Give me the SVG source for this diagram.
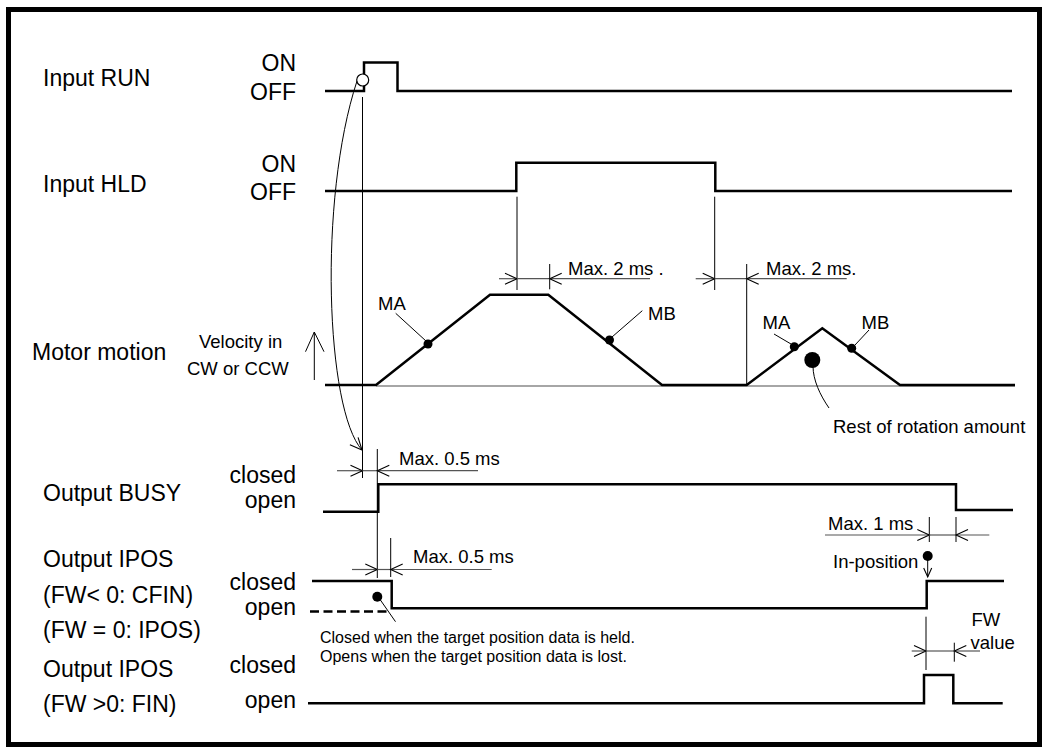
<svg xmlns="http://www.w3.org/2000/svg" width="1046" height="751" viewBox="0 0 1046 751">
<style>
text{font-family:"Liberation Sans",Arial,sans-serif;fill:#000}
.big{font-size:23px}
.med{font-size:18.5px}
.sm{font-size:16px}
.end{text-anchor:end}
.sig{fill:none;stroke:#000;stroke-width:2.5;stroke-linejoin:miter}
.thin{fill:none;stroke:#000;stroke-width:1}
.dim{fill:none;stroke:#555;stroke-width:1.2}
.arr{marker-end:url(#tip)}
</style>
<defs>
<marker id="tip" markerUnits="userSpaceOnUse" markerWidth="16" markerHeight="16" viewBox="-14 -8 16 16" refX="0" refY="0" orient="auto">
<path d="M-12,-5.5 L0,0 L-12,5.5" fill="none" stroke="#000" stroke-width="1.1"/>
</marker>
<marker id="tipS" markerUnits="userSpaceOnUse" markerWidth="14" markerHeight="14" viewBox="-12 -7 14 14" refX="0" refY="0" orient="auto">
<path d="M-9,-4 L0,0 L-9,4" fill="none" stroke="#000" stroke-width="1.1"/>
</marker>
</defs>
<rect x="8.5" y="9.5" width="1031" height="735" fill="#fff" stroke="#000" stroke-width="5"/>

<g id="run">
<text class="big" x="43" y="86">Input RUN</text>
<text class="big end" x="296" y="71">ON</text>
<text class="big end" x="296" y="100">OFF</text>
<path class="sig" d="M325,91 H364 V62.5 H397.5 V91 H1012"/>
<circle cx="362.7" cy="80" r="6" fill="#fff" stroke="#000" stroke-width="1.2"/>
</g>

<g id="hld">
<text class="big" x="43" y="191.5">Input HLD</text>
<text class="big end" x="296" y="171.5">ON</text>
<text class="big end" x="296" y="200">OFF</text>
<path class="sig" d="M325,191 H516.3 V162.7 H715.3 V191 H1012"/>
</g>

<g id="motion">
<text class="big" x="32" y="360">Motor motion</text>
<text class="med" x="199" y="348">Velocity in</text>
<text class="med" x="187" y="375">CW or CCW</text>
<line class="thin" x1="314.3" y1="380" x2="314.3" y2="332"/>
<path class="thin" d="M305.5,351.7 L314.3,332 L324,351.7" stroke-width="1.3"/>
<line x1="376" y1="386" x2="1015" y2="386" stroke="#888" stroke-width="1.3"/>
<path class="sig" d="M325,385 H376 L490,294.7 H548.3 L662,385 H746.7 L822.3,328.3 L900,385 H1015"/>
<circle cx="428" cy="344" r="4.5"/>
<circle cx="609.5" cy="340" r="4.5"/>
<circle cx="794.3" cy="346.7" r="4.5"/>
<circle cx="851.7" cy="348.3" r="4.5"/>
<circle cx="812.3" cy="360" r="8"/>
<text class="med" x="378" y="310">MA</text>
<text class="med" x="648" y="320">MB</text>
<text class="med" x="762.5" y="329">MA</text>
<text class="med" x="861.5" y="329">MB</text>
<text class="med" x="833" y="433">Rest of rotation amount</text>
</g>

<g id="busy">
<text class="big" x="43" y="501">Output BUSY</text>
<text class="big end" x="296" y="483">closed</text>
<text class="big end" x="296" y="508">open</text>
<path class="sig" d="M323,511.7 H378.3 V484.3 H956 V510 H1013"/>
</g>

<g id="ipos1">
<text class="big" x="43" y="567">Output IPOS</text>
<text class="big" x="43" y="603">(FW&lt; 0: CFIN)</text>
<text class="big" x="43" y="638">(FW = 0: IPOS)</text>
<text class="big end" x="296" y="590">closed</text>
<text class="big end" x="296" y="615">open</text>
<path class="sig" d="M312,581 H391.7 V608.3 H926.7 V581 H1004"/>
<line x1="310" y1="611.5" x2="388" y2="611.5" stroke="#000" stroke-width="2.5" stroke-dasharray="9,4.5"/>
<circle cx="377.3" cy="596.7" r="5"/>
<text class="sm" x="320" y="643">Closed when the target position data is held.</text>
<text class="sm" x="320" y="662">Opens when the target position data is lost.</text>
<circle cx="927.7" cy="556" r="5"/>
<text class="med" x="833" y="568">In-position</text>
</g>

<g id="ipos2">
<text class="big" x="43" y="676.5">Output IPOS</text>
<text class="big" x="43" y="711.5">(FW &gt;0: FIN)</text>
<text class="big end" x="296" y="673">closed</text>
<text class="big end" x="296" y="708">open</text>
<path class="sig" d="M308,703.3 H924 V675 H953.3 V703.3 H1002.7"/>
<text class="med" x="971.5" y="626">FW</text>
<text class="med" x="970.5" y="649">value</text>
</g>

<g id="connectors">
<path class="thin arr" d="M357,81 C318,200 326,410 362,450"/>
<line class="thin" x1="362.5" y1="97" x2="362.5" y2="478"/>
<line class="thin" x1="377.3" y1="449" x2="377.3" y2="578"/>
<line class="thin" x1="390.7" y1="538" x2="390.7" y2="577"/>
<line class="thin" x1="517" y1="196.7" x2="517" y2="290"/>
<line class="thin" x1="549.7" y1="264" x2="549.7" y2="289.3"/>
<line class="thin" x1="714.7" y1="196.7" x2="714.7" y2="290"/>
<line class="thin" x1="746.7" y1="264" x2="746.7" y2="385"/>
<line class="thin" x1="929.3" y1="517" x2="929.3" y2="542"/>
<line class="thin" x1="956" y1="517" x2="956" y2="542"/>
<line class="thin" x1="926" y1="616.7" x2="926" y2="670"/>
<line class="thin" x1="954.3" y1="642.7" x2="954.3" y2="661.7"/>

<line class="dim arr" x1="337" y1="470.7" x2="362.5" y2="470.7"/>
<line class="dim" x1="362.5" y1="470.7" x2="377.3" y2="470.7"/>
<line class="dim arr" x1="478" y1="470.7" x2="377.3" y2="470.7"/>
<text class="med" x="399" y="465">Max. 0.5 ms</text>

<line class="dim arr" x1="352" y1="569.5" x2="377.3" y2="569.5"/>
<line class="dim" x1="377.3" y1="569.5" x2="390.7" y2="569.5"/>
<line class="dim arr" x1="491.7" y1="569.5" x2="390.7" y2="569.5"/>
<text class="med" x="413" y="563">Max. 0.5 ms</text>

<line class="dim arr" x1="499" y1="278.7" x2="517" y2="278.7"/>
<line class="dim" x1="517" y1="278.7" x2="549.7" y2="278.7"/>
<line class="dim arr" x1="650" y1="278.7" x2="549.7" y2="278.7"/>
<text class="med" x="568" y="275">Max. 2 ms .</text>

<line class="dim arr" x1="695.7" y1="278.7" x2="714.7" y2="278.7"/>
<line class="dim" x1="714.7" y1="278.7" x2="746.7" y2="278.7"/>
<line class="dim arr" x1="846.7" y1="278.7" x2="746.7" y2="278.7"/>
<text class="med" x="766" y="275">Max. 2 ms.</text>

<line class="dim arr" x1="825" y1="535" x2="929.3" y2="535"/>
<line class="dim" x1="929.3" y1="535" x2="956" y2="535"/>
<line class="dim arr" x1="989.3" y1="535" x2="956" y2="535"/>
<text class="med" x="828" y="530">Max. 1 ms</text>

<line class="dim arr" x1="911.7" y1="651" x2="926" y2="651"/>
<line class="dim" x1="926" y1="651" x2="954.3" y2="651"/>
<line class="dim arr" x1="980" y1="651" x2="954.3" y2="651"/>

<line class="thin" x1="395.7" y1="313.3" x2="426" y2="341"/>
<line class="thin" x1="642.3" y1="310.7" x2="612" y2="337"/>
<line class="thin" x1="774" y1="334" x2="791" y2="344"/>
<line class="thin" x1="869" y1="330" x2="855" y2="345"/>
<path class="thin" d="M813,366 C813,380 820,395 829,408"/>
<line class="thin" x1="379" y1="598" x2="395.5" y2="621.7"/>
<line class="thin" x1="927.7" y1="559" x2="927.7" y2="577" marker-end="url(#tipS)"/>
</g>
</svg>
